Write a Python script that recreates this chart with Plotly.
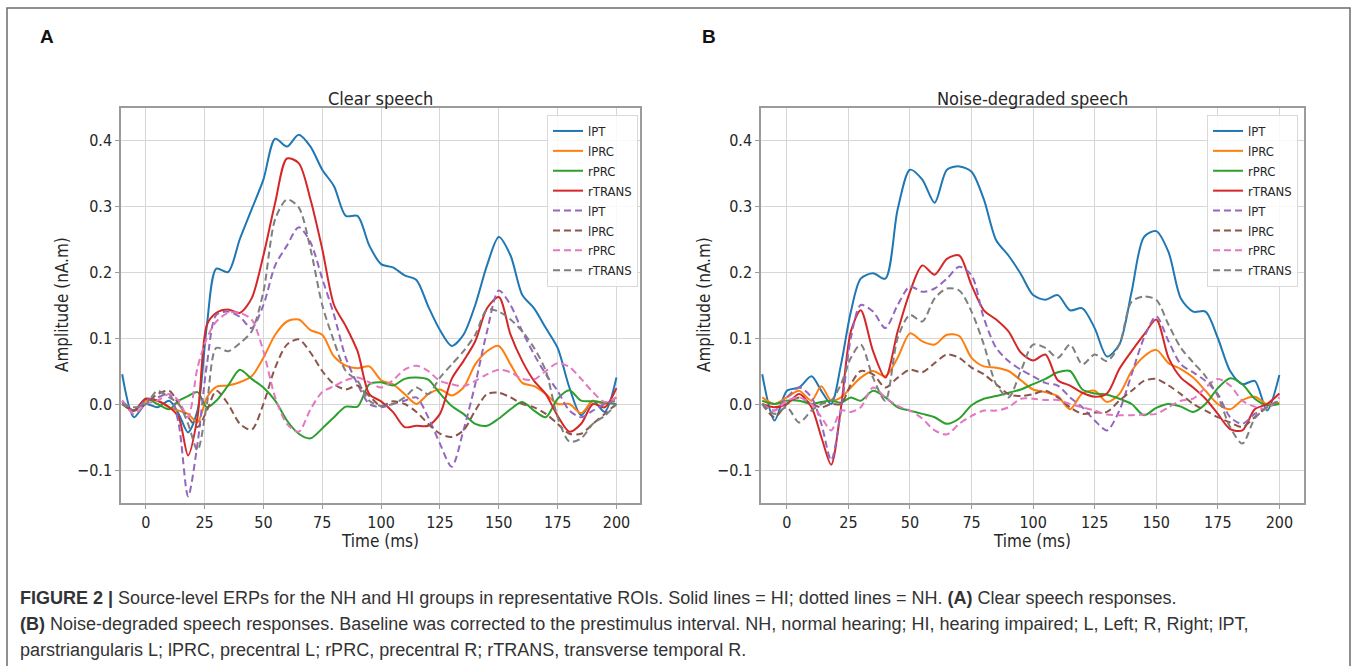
import plotly.graph_objects as go

# ---------------- data ----------------
time_ms = [-10, -5, 0, 5, 10, 14, 18, 22, 26, 30, 35, 40, 45, 50, 55, 60, 65, 70, 75, 80,
           85, 90, 95, 100, 105, 110, 115, 120, 125, 130, 135, 140, 145, 150, 155, 160,
           165, 170, 175, 180, 185, 190, 195, 200]

roi_labels = ["lPT", "lPRC", "rPRC", "rTRANS", "lPT", "lPRC", "rPRC", "rTRANS"]
x_ticks = [0, 25, 50, 75, 100, 125, 150, 175, 200]
y_ticks = [-0.1, 0.0, 0.1, 0.2, 0.3, 0.4]

# Panel A: clear speech (HI = solid, NH = dashed)
clear_lPT_HI = [0.045, -0.02, 0.0, -0.005, 0.005, -0.015, -0.043, -0.01, 0.12,
                0.205, 0.2, 0.25, 0.295, 0.34, 0.402, 0.39, 0.408, 0.39, 0.355,
                0.33, 0.285, 0.285, 0.24, 0.212, 0.207, 0.195, 0.188, 0.148, 0.112,
                0.088, 0.105, 0.15, 0.21, 0.253, 0.225, 0.165, 0.145, 0.115, 0.085,
                0.025, -0.017, 0.005, -0.012, 0.04]
clear_lPRC_HI = [0.0, -0.01, 0.005, 0.005, -0.005, -0.01, -0.015, -0.028, 0.01,
                 0.026, 0.028, 0.033, 0.042, 0.07, 0.105, 0.125, 0.128, 0.112, 0.105,
                 0.072, 0.058, 0.054, 0.057, 0.036, 0.03, 0.015, 0.0, 0.015, 0.022,
                 0.013, 0.025, 0.06, 0.08, 0.088, 0.06, 0.032, 0.027, 0.015, 0.0,
                 0.0, -0.014, 0.005, 0.0, 0.01]
clear_rPRC_HI = [0.0, -0.01, 0.008, 0.0, -0.008, 0.005, 0.012, 0.018, -0.005,
                 0.005, 0.028, 0.052, 0.038, 0.025, 0.005, -0.025, -0.045, -0.052, -0.037,
                 -0.02, -0.004, -0.004, 0.03, 0.033, 0.028, 0.038, 0.04, 0.037, 0.016,
                 -0.003, -0.015, -0.03, -0.033, -0.022, -0.008, 0.003, -0.01, -0.02, 0.008,
                 0.021, 0.005, 0.004, 0.002, 0.0]
clear_rTRANS_HI = [0.003, -0.01, 0.008, 0.005, -0.005, -0.02, -0.078, -0.02, 0.12,
                   0.138, 0.143, 0.138, 0.16, 0.225, 0.305, 0.372, 0.365, 0.31, 0.235,
                   0.15, 0.118, 0.08, 0.015, 0.004, -0.012, -0.035, -0.033, -0.033, -0.015,
                   0.038, 0.065, 0.095, 0.145, 0.162, 0.105, 0.065, 0.035, 0.015, -0.018,
                   -0.042, -0.03, 0.0, -0.005, 0.024]
clear_lPT_NH = [0.005, -0.01, 0.005, 0.01, 0.015, -0.03, -0.14, -0.06, 0.06,
                0.135, 0.14, 0.132, 0.115, 0.15, 0.21, 0.24, 0.268, 0.245, 0.19,
                0.135, 0.07, 0.03, 0.0, -0.005, 0.0, 0.005, 0.01, -0.02, -0.06,
                -0.095, -0.04, 0.03, 0.11, 0.172, 0.15, 0.11, 0.075, 0.045, 0.02,
                -0.01, -0.02, -0.01, 0.0, 0.005]
clear_lPRC_NH = [0.0, -0.01, 0.0, 0.015, 0.02, 0.0, -0.02, -0.035, -0.01,
                 0.02, 0.0, -0.03, -0.039, 0.0, 0.055, 0.09, 0.098, 0.078, 0.05,
                 0.03, 0.022, 0.028, 0.012, -0.003, 0.004, 0.0, -0.012, -0.03, -0.045,
                 -0.05, -0.04, -0.01, 0.015, 0.017, 0.01, 0.0, -0.005, -0.015, -0.03,
                 -0.045, -0.045, -0.03, -0.015, 0.0]
clear_rPRC_NH = [0.005, -0.015, 0.0, 0.005, 0.015, 0.005, -0.02, 0.055, 0.1,
                 0.125, 0.138, 0.138, 0.128, 0.08, 0.01, -0.03, -0.042, -0.008, 0.018,
                 0.027, 0.036, 0.04, 0.033, 0.025, 0.036, 0.052, 0.058, 0.05, 0.035,
                 0.03, 0.027, 0.035, 0.045, 0.052, 0.048, 0.038, 0.037, 0.05, 0.062,
                 0.056, 0.038, 0.018, 0.003, 0.01]
clear_rTRANS_NH = [0.0, -0.005, 0.0, 0.02, 0.01, 0.0, -0.03, -0.07, 0.0,
                   0.085, 0.08, 0.092, 0.11, 0.17, 0.28, 0.31, 0.298, 0.235, 0.15,
                   0.095, 0.05, 0.035, 0.005, -0.003, 0.0, 0.01, 0.025, 0.015, 0.04,
                   0.06, 0.08, 0.105, 0.143, 0.14, 0.128, 0.11, 0.085, 0.05, -0.02,
                   -0.057, -0.052, -0.03, -0.018, 0.0]

# Panel B: noise-degraded speech
noise_lPT_HI = [0.045, -0.025, 0.02, 0.025, 0.042, 0.02, 0.0, 0.06, 0.14,
                0.19, 0.198, 0.19, 0.295, 0.355, 0.34, 0.305, 0.355, 0.36, 0.352,
                0.31, 0.248, 0.225, 0.197, 0.165, 0.158, 0.165, 0.142, 0.145, 0.115,
                0.072, 0.09, 0.17, 0.253, 0.262, 0.23, 0.16, 0.14, 0.14, 0.1,
                0.05, 0.03, 0.035, -0.01, 0.044]
noise_lPRC_HI = [0.01, 0.0, 0.01, 0.02, 0.005, 0.027, 0.005, 0.01, 0.025,
                 0.04, 0.05, 0.042, 0.07, 0.107, 0.095, 0.09, 0.105, 0.103, 0.07,
                 0.057, 0.055, 0.05, 0.036, 0.022, 0.018, 0.012, -0.008, 0.016, 0.02,
                 0.003, 0.015, 0.05, 0.072, 0.082, 0.062, 0.053, 0.04, 0.02, 0.0,
                 -0.008, 0.006, 0.011, 0.0, 0.002]
noise_rPRC_HI = [0.005, 0.0, 0.005, 0.005, 0.0, 0.003, 0.005, 0.002, 0.01,
                 0.005, 0.02, 0.01, -0.005, -0.01, -0.015, -0.02, -0.03, -0.022, -0.002,
                 0.008, 0.012, 0.017, 0.022, 0.03, 0.038, 0.048, 0.05, 0.022, 0.016,
                 0.014, 0.008, 0.0, -0.017, -0.006, 0.0, -0.004, -0.012, 0.0, 0.024,
                 0.039, 0.03, 0.008, -0.002, 0.0]
noise_rTRANS_HI = [0.0, -0.005, 0.0, 0.015, -0.005, -0.05, -0.092, -0.005, 0.11,
                   0.142, 0.08, 0.04, 0.11, 0.17, 0.21, 0.196, 0.22, 0.225, 0.18,
                   0.142, 0.128, 0.11, 0.078, 0.066, 0.075, 0.036, 0.028, 0.017, 0.011,
                   0.016, 0.053, 0.08, 0.105, 0.128, 0.07, 0.04, 0.025, 0.008, -0.015,
                   -0.038, -0.04, -0.008, 0.0, 0.016]
noise_lPT_NH = [0.0, -0.01, 0.01, 0.025, 0.01, -0.03, -0.085, -0.01, 0.1,
                0.15, 0.14, 0.115, 0.15, 0.178, 0.17, 0.175, 0.19, 0.208, 0.195,
                0.13, 0.085, 0.065, 0.052, 0.042, 0.032, 0.028, 0.01, -0.005, -0.025,
                -0.04, -0.01, 0.045, 0.1, 0.133, 0.095, 0.06, 0.048, 0.035, 0.015,
                -0.02, -0.03, -0.015, -0.005, 0.005]
noise_lPRC_NH = [0.0, -0.02, 0.0, 0.01, 0.0, -0.005, 0.0, 0.0, 0.03,
                 0.05, 0.045, 0.025, 0.04, 0.052, 0.048, 0.062, 0.075, 0.07, 0.055,
                 0.045, 0.03, 0.015, 0.012, 0.015, 0.02, 0.01, -0.005, -0.015, -0.013,
                 -0.012, 0.005, 0.02, 0.035, 0.038, 0.028, 0.015, 0.0, -0.01, -0.02,
                 -0.028, -0.035, -0.02, -0.005, 0.005]
noise_rPRC_NH = [0.0, -0.01, 0.005, 0.01, 0.0, -0.02, -0.04, -0.01, -0.012,
                 -0.005, 0.025, 0.01, -0.003, -0.01, -0.022, -0.04, -0.046, -0.03, -0.018,
                 -0.01, -0.01, -0.005, 0.008, 0.008, 0.006, 0.006, 0.0, -0.005, -0.01,
                 -0.016, -0.017, -0.017, -0.016, -0.015, -0.005, 0.005, 0.008, 0.025, 0.038,
                 0.028, 0.005, -0.004, -0.007, 0.01]
noise_rTRANS_NH = [0.0, -0.015, -0.005, -0.028, -0.01, 0.0, 0.005, 0.03, 0.07,
                   0.09, 0.04, 0.005, 0.1, 0.135, 0.125, 0.16, 0.175, 0.172, 0.14,
                   0.09, 0.03, 0.01, 0.05, 0.09, 0.085, 0.07, 0.09, 0.06, 0.075,
                   0.065, 0.09, 0.155, 0.163, 0.158, 0.12, 0.085, 0.063, 0.042, 0.012,
                   -0.035, -0.06, -0.022, -0.005, 0.005]

clear_series = [clear_lPT_HI, clear_lPRC_HI, clear_rPRC_HI, clear_rTRANS_HI,
                clear_lPT_NH, clear_lPRC_NH, clear_rPRC_NH, clear_rTRANS_NH]
noise_series = [noise_lPT_HI, noise_lPRC_HI, noise_rPRC_HI, noise_rTRANS_HI,
                noise_lPT_NH, noise_lPRC_NH, noise_rPRC_NH, noise_rTRANS_NH]

for s in clear_series + noise_series:
    assert len(s) == len(time_ms)

# ---------------- styling ----------------
W, H = 1357, 666
colors = ["#1f77b4", "#ff7f0e", "#2ca02c", "#d62728",
          "#9467bd", "#8c564b", "#e377c2", "#7f7f7f"]
dashes = ["solid"] * 4 + ["7px,4px"] * 4
PLOT_FONT = "DejaVu Sans Condensed, DejaVu Sans, sans-serif"
CAP_FONT = "Liberation Sans Narrow, Liberation Sans, Arial, sans-serif"
TXT = "#262626"


def fx(p):
    return p / W


def fy(p):
    return 1 - p / H


fig = go.Figure()

panels = [
    dict(series=clear_series, xa="x", ya="y", legend="legend"),
    dict(series=noise_series, xa="x2", ya="y2", legend="legend2"),
]
for pnl in panels:
    for i, vals in enumerate(pnl["series"]):
        fig.add_trace(go.Scatter(
            x=time_ms, y=vals, mode="lines", name=roi_labels[i],
            line=dict(color=colors[i], width=2, dash=dashes[i], shape="spline", smoothing=0.8),
            xaxis=pnl["xa"], yaxis=pnl["ya"], legend=pnl["legend"],
            hoverinfo="skip",
        ))

axis_common = dict(
    showgrid=True, gridcolor="#d6d6d6", gridwidth=1,
    showline=True, linecolor="#9b9b9b", linewidth=1.5, mirror=True,
    ticks="outside", ticklen=4, tickcolor="#9b9b9b", tickwidth=1,
    zeroline=False, tickfont=dict(family=PLOT_FONT, size=16, color=TXT),
)
x_common = dict(axis_common, range=[-10.5, 210], tickmode="array", tickvals=x_ticks)
y_common = dict(axis_common, range=[-0.15, 0.4485], tickmode="array", tickvals=y_ticks,
                tickformat=".1f")

yd = [fy(503), fy(108)]
fig.update_layout(
    width=W, height=H, autosize=False,
    margin=dict(l=0, r=0, t=0, b=0),
    paper_bgcolor="white", plot_bgcolor="white",
    xaxis=dict(x_common, domain=[fx(121), fx(640)], anchor="y"),
    yaxis=dict(y_common, domain=yd, anchor="x"),
    xaxis2=dict(x_common, domain=[fx(761), fx(1304)], anchor="y2"),
    yaxis2=dict(y_common, domain=yd, anchor="x2"),
    showlegend=True,
)

legend_common = dict(
    xanchor="left", yanchor="top",
    bgcolor="rgba(255,255,255,0.85)", bordercolor="#d9d9d9", borderwidth=1,
    font=dict(family=PLOT_FONT, size=13, color=TXT),
    tracegroupgap=0, itemwidth=30,
)
fig.update_layout(
    legend=dict(legend_common, x=fx(547), y=fy(115)),
    legend2=dict(legend_common, x=fx(1207), y=fy(115)),
)


def note(text, px_x, px_y, size, family=PLOT_FONT, color=TXT, xanchor="center", angle=0):
    return dict(text=text, x=fx(px_x), y=fy(px_y), xref="paper", yref="paper",
                xanchor=xanchor, yanchor="middle", showarrow=False, textangle=angle,
                align="left", font=dict(family=family, size=size, color=color))


ann = [
    note("Clear speech", 380, 98, 18),
    note("Noise-degraded speech", 1032, 98, 18),
    note("Time (ms)", 380, 541, 17),
    note("Time (ms)", 1032, 541, 17),
    note("Amplitude (nA.m)", 62, 305, 17, angle=-90),
    note("Amplitude (nA.m)", 704, 305, 17, angle=-90),
    note("<b>A</b>", 47, 36, 19, family="Liberation Sans, Arial, sans-serif", color="#111"),
    note("<b>B</b>", 709, 36, 19, family="Liberation Sans, Arial, sans-serif", color="#111"),
]
caption_lines = [
    "<b>FIGURE 2 |</b> Source-level ERPs for the NH and HI groups in representative ROIs. "
    "Solid lines = HI; dotted lines = NH. <b>(A)</b> Clear speech responses.",
    "<b>(B)</b> Noise-degraded speech responses. Baseline was corrected to the prestimulus "
    "interval. NH, normal hearing; HI, hearing impaired; L, Left; R, Right; lPT,",
    "parstriangularis L; lPRC, precentral L; rPRC, precentral R; rTRANS, transverse temporal R.",
]
for k, line in enumerate(caption_lines):
    ann.append(note(line, 18, 598 + 26 * k, 18, family=CAP_FONT, color="#333", xanchor="left"))
fig.update_layout(annotations=ann)

# outer frame
fig.add_shape(type="rect", xref="paper", yref="paper",
              x0=fx(7), x1=fx(1350), y0=fy(700), y1=fy(8),
              line=dict(color="#6b6b6b", width=1.5), fillcolor="rgba(0,0,0,0)", layer="below")

fig.write_html("out.html", config={"displayModeBar": False},
               post_script="document.body.style.margin='0';")
